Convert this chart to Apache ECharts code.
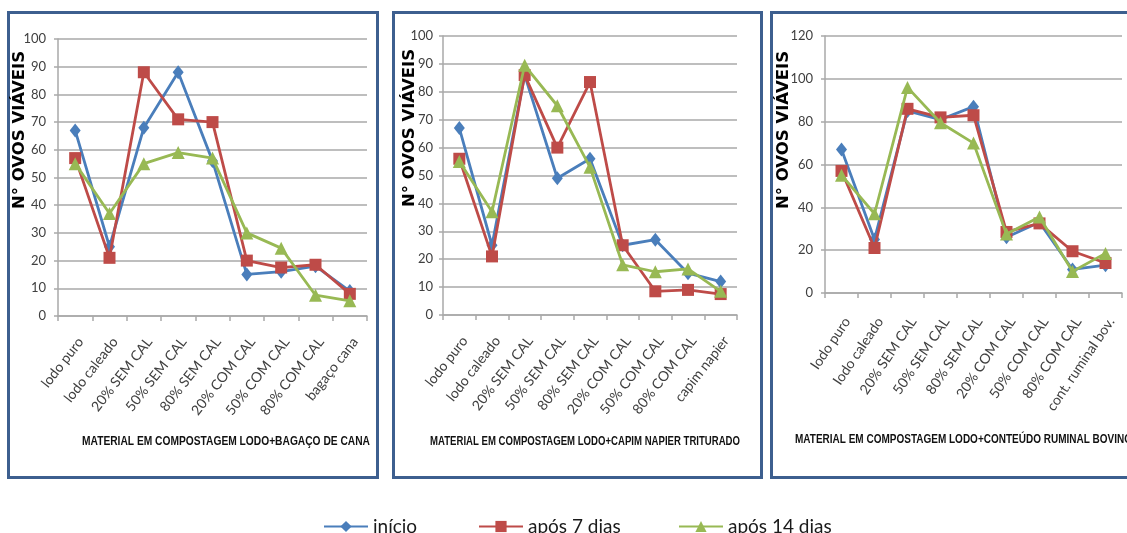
<!DOCTYPE html>
<html>
<head>
<meta charset="utf-8">
<script src="https://cdn.jsdelivr.net/npm/echarts@6/dist/echarts.min.js"></script>
<style>
html,body{margin:0;padding:0;background:#fff;}
#chart{width:1127px;height:533px;}
</style>
</head>
<body>
<div id="chart"></div>
<script>
// ---- Data ----
const seriesNames = ['início', 'após 7 dias', 'após 14 dias'];

const categories1 = ['lodo puro','lodo caleado','20% SEM CAL','50% SEM CAL','80% SEM CAL','20% COM CAL','50% COM CAL','80% COM CAL','bagaço cana'];
const categories2 = ['lodo puro','lodo caleado','20% SEM CAL','50% SEM CAL','80% SEM CAL','20% COM CAL','50% COM CAL','80% COM CAL','capim napier'];
const categories3 = ['lodo puro','lodo caleado','20% SEM CAL','50% SEM CAL','80% SEM CAL','20% COM CAL','50% COM CAL','80% COM CAL','cont. ruminal bov.'];

const inicio1    = [67, 25, 68, 88, 56, 15, 16, 18, 9];
const apos7_1    = [57, 21, 88, 71, 70, 20, 17.5, 18.5, 8];
const apos14_1   = [55, 37, 55, 59, 57, 30, 24.5, 7.5, 5.5];

const inicio2    = [67, 25, 86, 49, 56, 25, 27, 15, 12];
const apos7_2    = [56, 21, 86, 60, 83.5, 25, 8.5, 9, 7.5];
const apos14_2   = [55, 37, 89.5, 75, 53, 18, 15.5, 16.5, 8.5];

const inicio3    = [67, 25, 85, 81, 87, 26, 33, 11, 13];
const apos7_3    = [57, 21, 86, 82, 83, 28.5, 32.5, 19.5, 14];
const apos14_3   = [55, 37, 96, 79.5, 70, 27.5, 35.5, 10, 18.5];

const yTicks12 = {min: 0, max: 100, interval: 10};
const yTicks3  = {min: 0, max: 120, interval: 20};

const xTitles = [
  'MATERIAL EM COMPOSTAGEM LODO+BAGAÇO DE CANA',
  'MATERIAL EM COMPOSTAGEM LODO+CAPIM NAPIER TRITURADO',
  'MATERIAL EM COMPOSTAGEM LODO+CONTEÚDO RUMINAL BOVINO'
];
const yTitle = 'N° OVOS VIÁVEIS';

// ---- Styles ----
const colors = ['#4a7ebb', '#be4b48', '#98b954'];
const symbols = ['diamond', 'rect', 'triangle'];
const symbolSizes = [[11, 14], 12, 13];
const gridColor = '#a9a9a9';
const labelColor = '#404040';
const borderColor = '#3d5f8f';

const grids = [
  {left: 58, top: 39, width: 309, height: 277},
  {left: 443, top: 36, width: 294, height: 279},
  {left: 825, top: 36, width: 297, height: 257}
];
const cats = [categories1, categories2, categories3];
const yScales = [yTicks12, yTicks12, yTicks3];
const data = [
  [inicio1, apos7_1, apos14_1],
  [inicio2, apos7_2, apos14_2],
  [inicio3, apos7_3, apos14_3]
];
const xLabelSize = [14, 14, 14];
const xLabelRot = [52, 52, 56];
const xLabelMargin = [19, 19, 22];
const yLabelMargin = [12, 10, 12];

const xAxes = [], yAxes = [], series = [];
for (let g = 0; g < 3; g++) {
  xAxes.push({
    type: 'category', gridIndex: g, data: cats[g], boundaryGap: true,
    axisLine: {lineStyle: {color: gridColor, width: 1.5}},
    axisTick: {show: true, length: 5, lineStyle: {color: gridColor, width: 1.5}},
    axisLabel: {rotate: xLabelRot[g], interval: 0, margin: xLabelMargin[g], color: labelColor,
      verticalAlign: 'top', fontFamily: 'Lato, sans-serif', fontSize: xLabelSize[g]}
  });
  yAxes.push({
    type: 'value', gridIndex: g, min: yScales[g].min, max: yScales[g].max, interval: yScales[g].interval,
    axisLine: {show: true, lineStyle: {color: gridColor, width: 1.5}},
    axisTick: {show: true, length: 4, lineStyle: {color: gridColor, width: 1.5}},
    splitLine: {lineStyle: {color: gridColor, width: 1.5}},
    axisLabel: {color: labelColor, fontFamily: 'Lato, sans-serif', fontSize: 13, margin: yLabelMargin[g]}
  });
  for (let s = 0; s < 3; s++) {
    series.push({
      name: seriesNames[s], type: 'line', xAxisIndex: g, yAxisIndex: g,
      data: data[g][s], symbol: symbols[s], symbolSize: symbolSizes[s],
      itemStyle: {color: colors[s]}, lineStyle: {color: colors[s], width: 2.8},
      z: 2 + s, animation: false
    });
  }
}

const legendLefts = [318, 473, 673];
const legends = seriesNames.map((n, i) => ({
  data: [n], left: legendLefts[i], top: 512, itemWidth: 44, itemHeight: 14, itemGap: 0,
  textStyle: {fontFamily: 'Lato, sans-serif', fontSize: 19, color: '#1a1a1a'}
}));

const graphics = [
  {type: 'rect', shape: {x: 8.5, y: 12.5, width: 369, height: 465}, style: {fill: 'none', stroke: borderColor, lineWidth: 3}, silent: true},
  {type: 'rect', shape: {x: 393.5, y: 12.5, width: 368, height: 465}, style: {fill: 'none', stroke: borderColor, lineWidth: 3}, silent: true},
  {type: 'rect', shape: {x: 771.5, y: 12.5, width: 380, height: 465}, style: {fill: 'none', stroke: borderColor, lineWidth: 3}, silent: true}
];
const yTitlePos = [[20, 130], [410, 128], [784, 130]];
yTitlePos.forEach(p => graphics.push({
  type: 'text', x: p[0], y: p[1], rotation: Math.PI / 2, silent: true,
  style: {text: yTitle, fill: '#000', font: 'bold 16.5px "DejaVu Sans", sans-serif', textAlign: 'center', textVerticalAlign: 'middle'}
}));

// x titles: narrow bold text fitted to the span it occupies in the reference
const xTitleFont = 'bold 13px "Liberation Sans", sans-serif';
const xTitleSpan = [[82, 370, 441], [430, 740, 441], [795, 1132, 439]];
const mctx = document.createElement('canvas').getContext('2d');
mctx.font = xTitleFont;
xTitleSpan.forEach((p, i) => {
  const w = mctx.measureText(xTitles[i]).width;
  graphics.push({
    type: 'text', x: p[0], y: p[2], scaleX: (p[1] - p[0]) / w, silent: true,
    style: {text: xTitles[i], fill: '#111', font: xTitleFont, textAlign: 'left', textVerticalAlign: 'middle'}
  });
});

const chart = echarts.init(document.getElementById('chart'), null, {renderer: 'canvas'});
chart.setOption({
  backgroundColor: '#fff',
  animation: false,
  grid: grids,
  xAxis: xAxes,
  yAxis: yAxes,
  series: series,
  legend: legends,
  graphic: graphics
});
</script>
</body>
</html>
